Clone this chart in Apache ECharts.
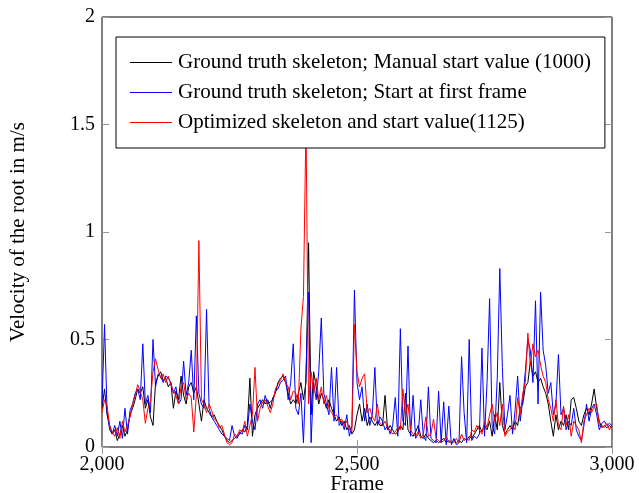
<!DOCTYPE html>
<html>
<head>
<meta charset="utf-8">
<script src="https://cdn.jsdelivr.net/npm/echarts@6/dist/echarts.min.js"></script>
<style>
  html, body { margin: 0; padding: 0; background: #fff; }
  #chart { width: 639px; height: 493px; }
</style>
</head>
<body>
<div id="chart"></div>
<script>
// frames 2000..3000, every 5th frame
var frameStart = 2000;
var frameStep = 5;

var seriesNames = [
  'Ground truth skeleton; Manual start value (1000)',
  'Ground truth skeleton; Start at first frame',
  'Optimized skeleton and start value(1125)'
];

var manualStart = [
  0.18,0.27,0.15,0.10,0.06,0.08,0.03,0.06,0.10,0.05,
  0.08,0.15,0.18,0.22,0.27,0.25,0.28,0.18,0.22,0.14,
  0.10,0.30,0.33,0.35,0.31,0.32,0.28,0.30,0.18,0.26,
  0.22,0.33,0.24,0.20,0.28,0.30,0.25,0.28,0.20,0.12,
  0.22,0.18,0.16,0.14,0.15,0.12,0.10,0.08,0.05,0.03,
  0.02,0.03,0.04,0.05,0.06,0.08,0.07,0.10,0.32,0.05,
  0.15,0.18,0.20,0.22,0.20,0.22,0.18,0.23,0.25,0.30,
  0.32,0.33,0.30,0.25,0.20,0.22,0.20,0.25,0.30,0.22,
  0.30,0.95,0.15,0.35,0.28,0.20,0.25,0.22,0.18,0.22,
  0.18,0.15,0.12,0.14,0.10,0.12,0.08,0.10,0.06,0.08,
  0.15,0.20,0.12,0.18,0.10,0.14,0.12,0.10,0.12,0.10,
  0.10,0.24,0.08,0.10,0.08,0.06,0.07,0.10,0.08,0.25,
  0.08,0.06,0.05,0.07,0.10,0.05,0.04,0.06,0.04,0.03,
  0.02,0.03,0.02,0.03,0.04,0.02,0.03,0.02,0.03,0.02,
  0.03,0.02,0.04,0.03,0.05,0.04,0.06,0.08,0.10,0.07,
  0.10,0.08,0.12,0.05,0.15,0.08,0.30,0.10,0.06,0.08,
  0.10,0.08,0.12,0.10,0.18,0.20,0.28,0.30,0.40,0.33,
  0.35,0.30,0.32,0.28,0.25,0.20,0.12,0.05,0.15,0.08,
  0.12,0.10,0.15,0.08,0.22,0.23,0.18,0.12,0.10,0.15,
  0.18,0.15,0.20,0.27,0.18,0.12,0.09,0.10,0.09,0.10,
  0.09
];

var firstFrame = [
  0.20,0.57,0.16,0.08,0.06,0.10,0.05,0.12,0.04,0.18,
  0.06,0.17,0.20,0.25,0.27,0.22,0.48,0.20,0.24,0.16,
  0.50,0.28,0.34,0.33,0.30,0.33,0.32,0.30,0.25,0.28,
  0.20,0.22,0.40,0.24,0.30,0.45,0.22,0.61,0.25,0.20,
  0.18,0.64,0.18,0.14,0.12,0.10,0.08,0.06,0.05,0.04,
  0.03,0.10,0.05,0.04,0.07,0.06,0.10,0.08,0.20,0.12,
  0.08,0.20,0.22,0.18,0.24,0.20,0.21,0.22,0.26,0.27,
  0.30,0.31,0.33,0.22,0.30,0.48,0.18,0.15,0.25,0.02,
  0.35,0.72,0.02,0.30,0.22,0.35,0.60,0.25,0.20,0.15,
  0.37,0.12,0.37,0.10,0.12,0.08,0.15,0.05,0.10,0.73,
  0.30,0.22,0.28,0.12,0.20,0.10,0.15,0.37,0.10,0.14,
  0.12,0.08,0.10,0.06,0.10,0.23,0.05,0.55,0.12,0.10,
  0.47,0.05,0.24,0.04,0.06,0.22,0.05,0.03,0.28,0.04,
  0.03,0.02,0.26,0.02,0.21,0.01,0.19,0.01,0.04,0.01,
  0.02,0.42,0.16,0.02,0.50,0.03,0.05,0.04,0.06,0.46,
  0.05,0.30,0.69,0.10,0.06,0.32,0.83,0.37,0.08,0.15,
  0.24,0.06,0.17,0.33,0.12,0.22,0.35,0.50,0.45,0.30,
  0.68,0.20,0.72,0.45,0.38,0.25,0.30,0.15,0.20,0.43,
  0.15,0.18,0.08,0.12,0.10,0.18,0.08,0.05,0.03,0.10,
  0.20,0.12,0.18,0.20,0.15,0.08,0.11,0.12,0.10,0.11,
  0.10
];

var optimized = [
  0.16,0.22,0.19,0.10,0.07,0.05,0.09,0.04,0.12,0.07,
  0.10,0.14,0.20,0.24,0.29,0.26,0.22,0.11,0.18,0.21,
  0.35,0.41,0.36,0.32,0.34,0.30,0.33,0.29,0.26,0.24,
  0.20,0.28,0.30,0.22,0.25,0.23,0.07,0.24,0.96,0.22,
  0.20,0.16,0.20,0.17,0.13,0.12,0.09,0.10,0.06,0.02,
  0.01,0.02,0.06,0.05,0.08,0.07,0.12,0.05,0.10,0.15,
  0.37,0.12,0.18,0.21,0.22,0.19,0.16,0.20,0.27,0.29,
  0.31,0.34,0.30,0.28,0.22,0.26,0.25,0.20,0.55,0.70,
  1.52,0.20,0.35,0.25,0.32,0.22,0.28,0.20,0.24,0.18,
  0.16,0.14,0.15,0.12,0.13,0.10,0.12,0.08,0.07,0.57,
  0.35,0.28,0.32,0.34,0.16,0.18,0.14,0.12,0.20,0.11,
  0.10,0.12,0.09,0.08,0.06,0.07,0.09,0.08,0.27,0.15,
  0.20,0.08,0.06,0.05,0.07,0.04,0.06,0.14,0.05,0.06,
  0.13,0.04,0.03,0.02,0.03,0.05,0.02,0.03,0.02,0.04,
  0.02,0.06,0.03,0.04,0.03,0.08,0.07,0.10,0.08,0.06,
  0.12,0.09,0.15,0.20,0.12,0.16,0.10,0.20,0.05,0.07,
  0.08,0.10,0.08,0.23,0.15,0.25,0.30,0.53,0.38,0.48,
  0.42,0.45,0.38,0.33,0.30,0.22,0.18,0.12,0.22,0.10,
  0.08,0.19,0.10,0.15,0.05,0.12,0.10,0.08,0.02,0.12,
  0.15,0.18,0.16,0.19,0.20,0.10,0.10,0.09,0.11,0.08,
  0.10
];

var colors = ['#000000', '#0000ff', '#ff0000'];

function toPairs(values) {
  return values.map(function (v, i) { return [frameStart + i * frameStep, v]; });
}

var font = 'Liberation Serif, Times New Roman, serif';
var tickStyle = { show: true, inside: true, length: 7, lineStyle: { color: '#999', width: 1 } };

var dom = document.getElementById('chart');
var myChart = echarts.init(dom, null, { renderer: 'canvas' });

var option = {
  animation: false,
  textStyle: { fontFamily: font },
  grid: {
    left: 102, right: 27, top: 17, bottom: 46,
    outerBoundsMode: 'none',
    show: true, borderColor: '#000', borderWidth: 1, backgroundColor: 'transparent'
  },
  legend: {
    orient: 'vertical',
    left: 116, top: 37,
    backgroundColor: '#fff',
    borderColor: '#000', borderWidth: 1,
    padding: [15, 14, 15, 14],
    itemGap: 9,
    icon: 'rect',
    itemWidth: 42, itemHeight: 1,
    textStyle: { fontFamily: font, fontSize: 21, lineHeight: 20, color: '#000', padding: [0, 0, 0, 1] },
    data: seriesNames
  },
  xAxis: [{
    type: 'value', min: 2000, max: 3000, interval: 500,
    name: 'Frame', nameLocation: 'middle', nameGap: 27, nameMoveOverlap: false,
    nameTextStyle: { fontFamily: font, fontSize: 21, color: '#000' },
    axisLine: { show: false },
    axisTick: tickStyle,
    splitLine: { show: false },
    axisLabel: {
      fontFamily: font, fontSize: 20, color: '#000', margin: 8,
      formatter: function (v) { return v.toLocaleString('en-US'); }
    }
  }, {
    type: 'value', position: 'top', min: 2000, max: 3000, interval: 500,
    axisLine: { show: false }, axisTick: tickStyle,
    axisLabel: { show: false }, splitLine: { show: false }
  }],
  yAxis: [{
    type: 'value', min: 0, max: 2, interval: 0.5,
    name: 'Velocity of the root in m/s', nameLocation: 'middle', nameGap: 73,
    nameTextStyle: { fontFamily: font, fontSize: 21, color: '#000' },
    axisLine: { show: false },
    axisTick: tickStyle,
    splitLine: { show: false },
    axisLabel: { fontFamily: font, fontSize: 20, color: '#000', margin: 7 }
  }, {
    type: 'value', position: 'right', min: 0, max: 2, interval: 0.5,
    axisLine: { show: false }, axisTick: tickStyle,
    axisLabel: { show: false }, splitLine: { show: false }
  }],
  series: [
    { name: seriesNames[0], type: 'line', data: toPairs(manualStart), symbol: 'none',
      lineStyle: { color: colors[0], width: 1 }, itemStyle: { color: colors[0] } },
    { name: seriesNames[1], type: 'line', data: toPairs(firstFrame), symbol: 'none',
      lineStyle: { color: colors[1], width: 1 }, itemStyle: { color: colors[1] } },
    { name: seriesNames[2], type: 'line', data: toPairs(optimized), symbol: 'none',
      lineStyle: { color: colors[2], width: 1 }, itemStyle: { color: colors[2] } }
  ]
};

if (option && typeof option === 'object') {
  myChart.setOption(option);
}

window.addEventListener('resize', myChart.resize);
</script>
</body>
</html>
